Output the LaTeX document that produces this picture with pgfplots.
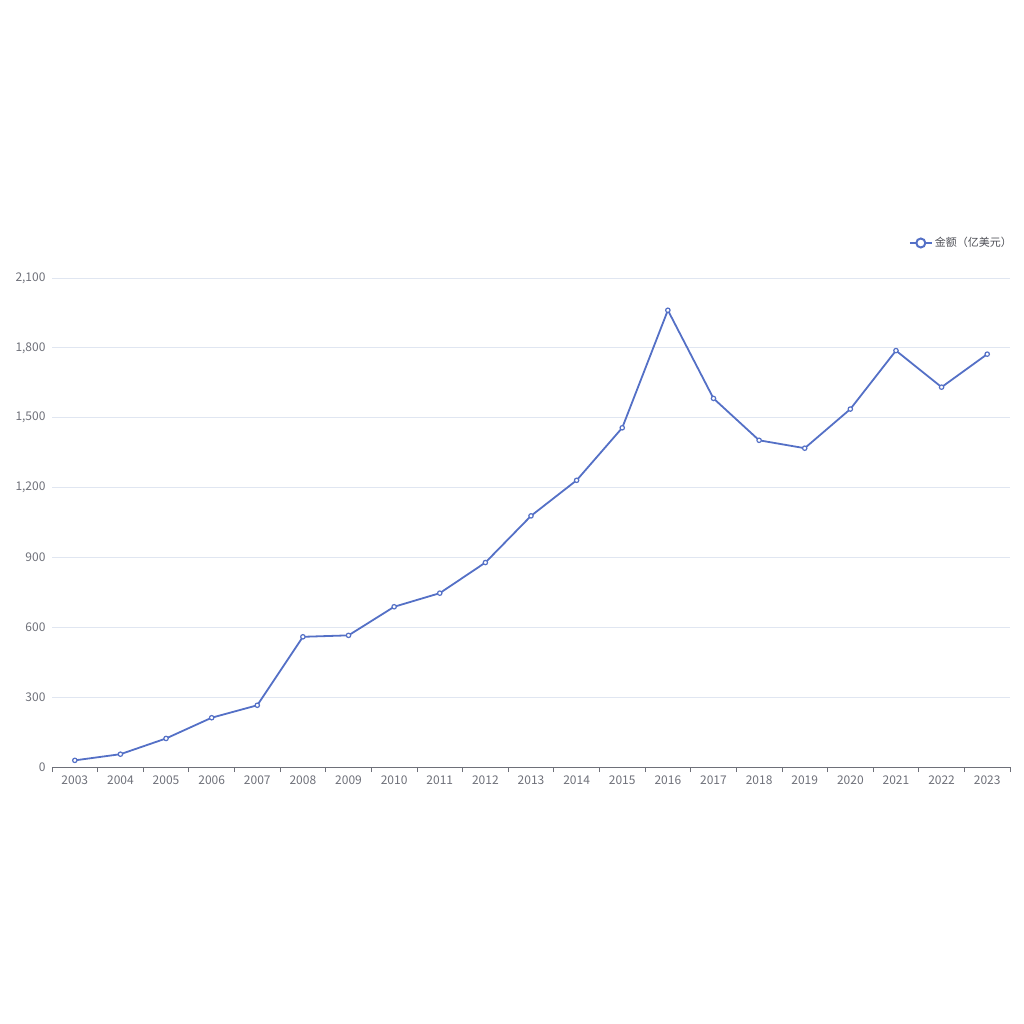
\documentclass[border=0pt]{standalone}
\usepackage{pgfplots}
\pgfplotsset{compat=1.18}
\usepackage{fontspec}
\setmainfont{Noto Sans CJK SC}
\definecolor{lineblue}{HTML}{5470C6}
\definecolor{axisgray}{HTML}{6E7079}
\definecolor{gridgray}{HTML}{E0E6F1}

\begin{document}
\begin{tikzpicture}
  % page frame 1024 x 1024, axis box from (52,278) to (1010,767) in pixels
  \path[use as bounding box] (-52bp,-257bp) rectangle (972bp,767bp);
  \begin{axis}[
    scale only axis,
    width=958bp, height=489bp,
    anchor=south west, at={(0,0)},
    xmin=-0.5, xmax=20.5,
    ymin=0, ymax=2100,
    xtick={0,...,20},
    xticklabels={2003,2004,2005,2006,2007,2008,2009,2010,2011,2012,2013,2014,2015,2016,2017,2018,2019,2020,2021,2022,2023},
    minor xtick={-0.5,0.5,...,20.5},
    ytick={0,300,...,2100},
    axis x line*=bottom,
    axis y line*=left,
    x axis line style={-, draw=axisgray, line width=0.8bp},
    y axis line style={draw=none},
    major tick length=0pt,
    minor tick length=5bp,
    tick align=outside,
    minor x tick style={axisgray, line width=0.8bp},
    ymajorgrids,
    grid style={gridgray, line width=0.8bp},
    tick label style={font=\fontsize{12bp}{14bp}\selectfont, text=axisgray},
    xticklabel style={yshift=-5bp},
    yticklabel style={xshift=-3bp},
    /pgf/number format/assume math mode=true,
    /pgf/number format/1000 sep={,},
    scaled y ticks=false,
    legend style={at={(1,1)}, anchor=east, xshift=4bp, yshift=35bp,
      draw=none, fill=none, font=\fontsize{11bp}{13bp}\selectfont,
      text=axisgray!70!black, inner sep=0pt},
    legend image code/.code={
      \draw[lineblue, line width=2bp] (0bp,0bp) -- (22bp,0bp);
      \draw[lineblue, fill=white, line width=2bp] (11bp,0bp) circle (4.5bp);
    },
  ]
    \addplot[lineblue, line width=1.8bp, mark=*,
      mark size=2.2bp, mark options={fill=white, draw=lineblue, line width=1.2bp}]
      coordinates {
        (0,28.5) (1,55.0) (2,122.6) (3,211.6) (4,265.1) (5,559.1) (6,565.3)
        (7,688.1) (8,746.5) (9,878.0) (10,1078.4) (11,1231.2) (12,1456.7)
        (13,1961.5) (14,1582.9) (15,1403.0) (16,1369.1) (17,1537.1)
        (18,1788.2) (19,1631.2) (20,1772.9)
      };
    \addlegendentry{金额（亿美元）}
  \end{axis}
\end{tikzpicture}
\end{document}
